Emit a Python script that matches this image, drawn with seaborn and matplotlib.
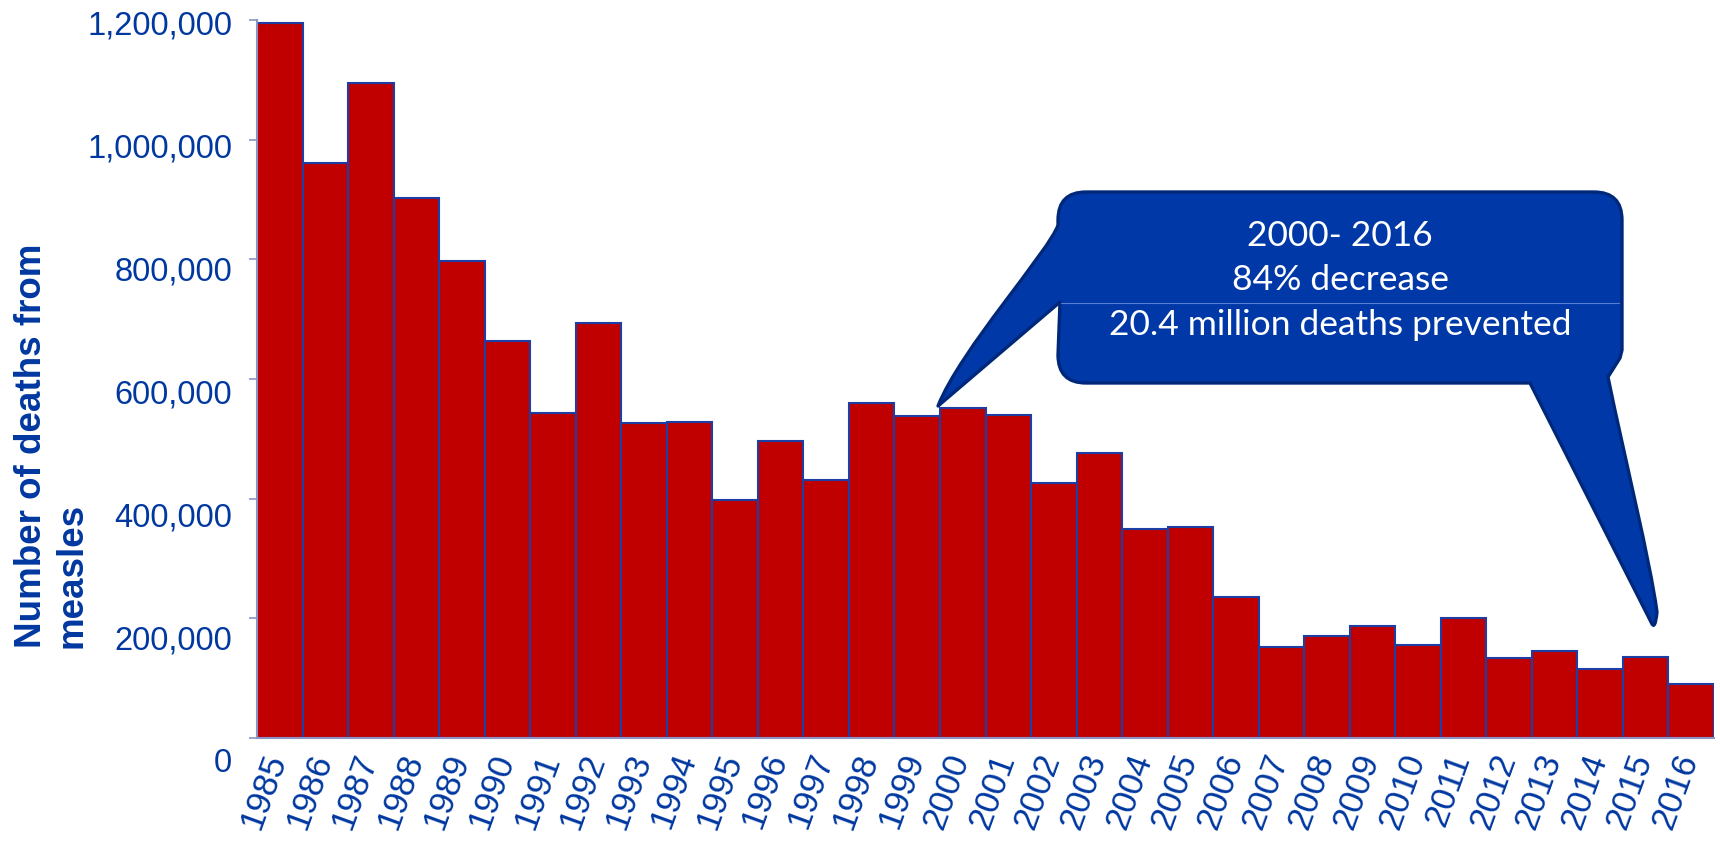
import numpy as np
import matplotlib.pyplot as plt
import seaborn as sns
from matplotlib.path import Path
from matplotlib.patches import PathPatch
from matplotlib.ticker import FuncFormatter
from matplotlib.transforms import ScaledTranslation

# data
years = ["1985", "1986", "1987", "1988", "1989", "1990", "1991", "1992",
         "1993", "1994", "1995", "1996", "1997", "1998", "1999", "2000",
         "2001", "2002", "2003", "2004", "2005", "2006", "2007", "2008",
         "2009", "2010", "2011", "2012", "2013", "2014", "2015", "2016"]
deaths = [1195000, 961000, 1095000, 903000, 798000, 663000, 543000, 694000,
          526000, 528000, 397000, 497000, 431000, 560000, 538000, 551000,
          539000, 426000, 477000, 349000, 353000, 235000, 152000, 170000,
          187000, 156000, 200000, 134000, 146000, 115000, 135000, 90000]
y_ticks = [0, 200000, 400000, 600000, 800000, 1000000, 1200000]
y_label = "Number of deaths from\nmeasles"
callout_lines = ["2000- 2016", "84% decrease", "20.4 million deaths prevented"]

BAR_RED = "#C00000"
BAR_EDGE = "#1E3EA4"
TEXT_BLUE = "#0038A0"
AXIS_GREY = "#8C94C6"
CALLOUT_FILL = "#0038A8"
CALLOUT_EDGE = "#00287A"

sns.set_style("white")
plt.rcParams["font.family"] = ["Liberation Sans", "DejaVu Sans"]

W, H = 1720, 849
fig = plt.figure(figsize=(W / 100, H / 100), dpi=100)
ax = fig.add_axes([257 / W, 1 - 738 / H, (1714 - 257) / W, (738 - 20) / H])

sns.barplot(x=years, y=deaths, color=BAR_RED, saturation=1, width=1,
            edgecolor=BAR_EDGE, linewidth=1.5, ax=ax, zorder=2)

n = len(years)
ax.set_xlim(-0.5, n - 0.5)
ax.set_ylim(0, 1200000)
ax.set_xlabel("")
ax.set_ylabel("")

for side in ["top", "right"]:
    ax.spines[side].set_visible(False)
for side in ["left", "bottom"]:
    ax.spines[side].set_color(AXIS_GREY)
    ax.spines[side].set_linewidth(1.5)
    ax.spines[side].set_zorder(3)

# x: labels at bar centres, tick marks at bar edges
ax.set_xticks(range(n))
ax.set_xticklabels(years, rotation=70, ha="right", va="top")
ax.set_xticks(np.arange(-0.5, n), minor=True)
ax.tick_params(axis="x", which="major", length=0, pad=8,
               labelsize=25, labelcolor=TEXT_BLUE)
ax.tick_params(axis="x", which="minor", length=7.5, width=1.2,
               color=AXIS_GREY, direction="out")

ax.set_yticks(y_ticks)
ax.yaxis.set_major_formatter(FuncFormatter(lambda v, p: f"{v:,.0f}"))
ax.tick_params(axis="y", length=6, width=1.2, color=AXIS_GREY,
               direction="out", pad=12, labelsize=23.5, labelcolor=TEXT_BLUE)
ax.tick_params(left=True, bottom=True)

# the original's value labels drift downward relative to their ticks
for k, lbl in enumerate(ax.get_yticklabels()):
    off = (22 - 3.3 * k) / 100
    lbl.set_transform(lbl.get_transform() + ScaledTranslation(0, -off, fig.dpi_scale_trans))
for lbl in ax.get_xticklabels():
    lbl.set_transform(lbl.get_transform() + ScaledTranslation(0.13, 0, fig.dpi_scale_trans))

fig.text(51.5 / W, 1 - 648 / H, y_label, rotation=90, ha="center", va="bottom",
         multialignment="left", fontsize=26.5, fontweight="bold", color=TEXT_BLUE,
         linespacing=1.2)

# speech-bubble callout, outline in figure pixels (y measured from top)
def P(x, y):
    return (x / W, 1 - y / H)

verts, codes = [], []
def move(x, y):
    verts.append(P(x, y)); codes.append(Path.MOVETO)
def line(x, y):
    verts.append(P(x, y)); codes.append(Path.LINETO)
def quad(cx, cy, x, y):
    verts.extend([P(cx, cy), P(x, y)]); codes.extend([Path.CURVE3] * 2)
def cubic(c1, c2, end):
    verts.extend([P(*c1), P(*c2), P(*end)]); codes.extend([Path.CURVE4] * 3)

L, R, T, B, r = 1058, 1622, 192, 383, 28
move(L, 225)
cubic((1050, 250), (960, 350), (938, 406))
line(1060, 302)
line(L, B - r)
quad(L, B, L + r, B)
line(1530, B)
line(1651, 622)
quad(1655, 632, 1657, 612)
cubic((1650, 560), (1625, 460), (1608, 377))
line(1620, 358)
line(R, 350)
line(R, T + r)
quad(R, T, R - r, T)
line(L + r, T)
quad(L, T, L, T + r)
line(L, 225)
codes.append(Path.CLOSEPOLY); verts.append(P(L, 225))

bubble = PathPatch(Path(verts, codes), transform=fig.transFigure,
                   facecolor=CALLOUT_FILL, edgecolor=CALLOUT_EDGE,
                   linewidth=2.4, joinstyle="round", zorder=10)
fig.add_artist(bubble)
fig.add_artist(plt.Line2D([1061 / W, 1619 / W], [1 - 303 / H, 1 - 303 / H],
                          transform=fig.transFigure, color="#5A7FD0",
                          linewidth=0.8, zorder=11))

for yy, txt in zip([236, 280, 325], callout_lines):
    fig.text(1340 / W, 1 - yy / H, txt, ha="center", va="center",
             fontsize=25.5, color="white", family=["Lato", "DejaVu Sans"], zorder=12)

fig.savefig("out.png", dpi=100)
plt.close(fig)
